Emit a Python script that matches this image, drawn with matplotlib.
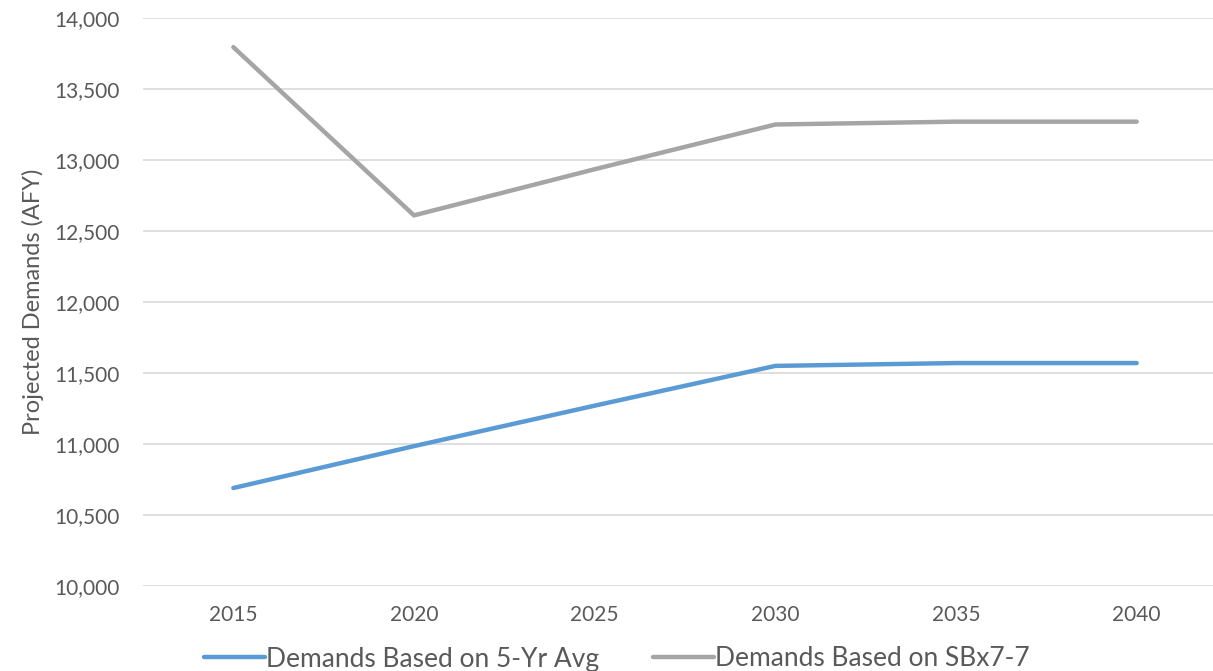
import matplotlib.pyplot as plt
from matplotlib.ticker import FuncFormatter

years = ['2015', '2020', '2025', '2030', '2035', '2040']
avg_5yr = [10690, 10985, 11270, 11550, 11570, 11570]
sbx7 = [13795, 12610, 12935, 13250, 13270, 13270]

plt.rcParams['font.family'] = ['Lato', 'DejaVu Sans']
txt = '#595959'

fig = plt.figure(figsize=(12.13, 6.71), dpi=100)
ax = fig.add_axes([143 / 1213, 1 - 586 / 671, 1084 / 1213, 568 / 671])

x = range(len(years))
ax.plot(x, avg_5yr, color='#5B9BD5', lw=3.2, solid_capstyle='round', label='Demands Based on 5-Yr Avg')
ax.plot(x, sbx7, color='#A5A5A5', lw=3.2, solid_capstyle='round', label='Demands Based on SBx7-7')

ax.set_xlim(-0.5, 5.5)
ax.set_ylim(10000, 14000)
ax.set_yticks(range(10000, 14001, 500))
ax.yaxis.set_major_formatter(FuncFormatter(lambda v, p: f'{int(v):,}'))
ax.set_xticks(list(x))
ax.set_xticklabels(years)
ax.grid(axis='y', color='#D9D9D9', lw=1.2)
ax.set_axisbelow(True)
for s in ax.spines.values():
    s.set_visible(False)
ax.tick_params(length=0, labelsize=15, colors=txt, pad=17)
ax.tick_params(axis='x', pad=14)
ax.set_ylabel('Projected Demands (AFY)', fontsize=17, color=txt, labelpad=7)

fig.legend(loc='center', bbox_to_anchor=(617 / 1213, 1 - 659 / 671), ncol=2, frameon=False,
           fontsize=19, labelcolor=txt, handlelength=2.3, handletextpad=0.05, columnspacing=2.05)

fig.savefig('out.png', dpi=100)
